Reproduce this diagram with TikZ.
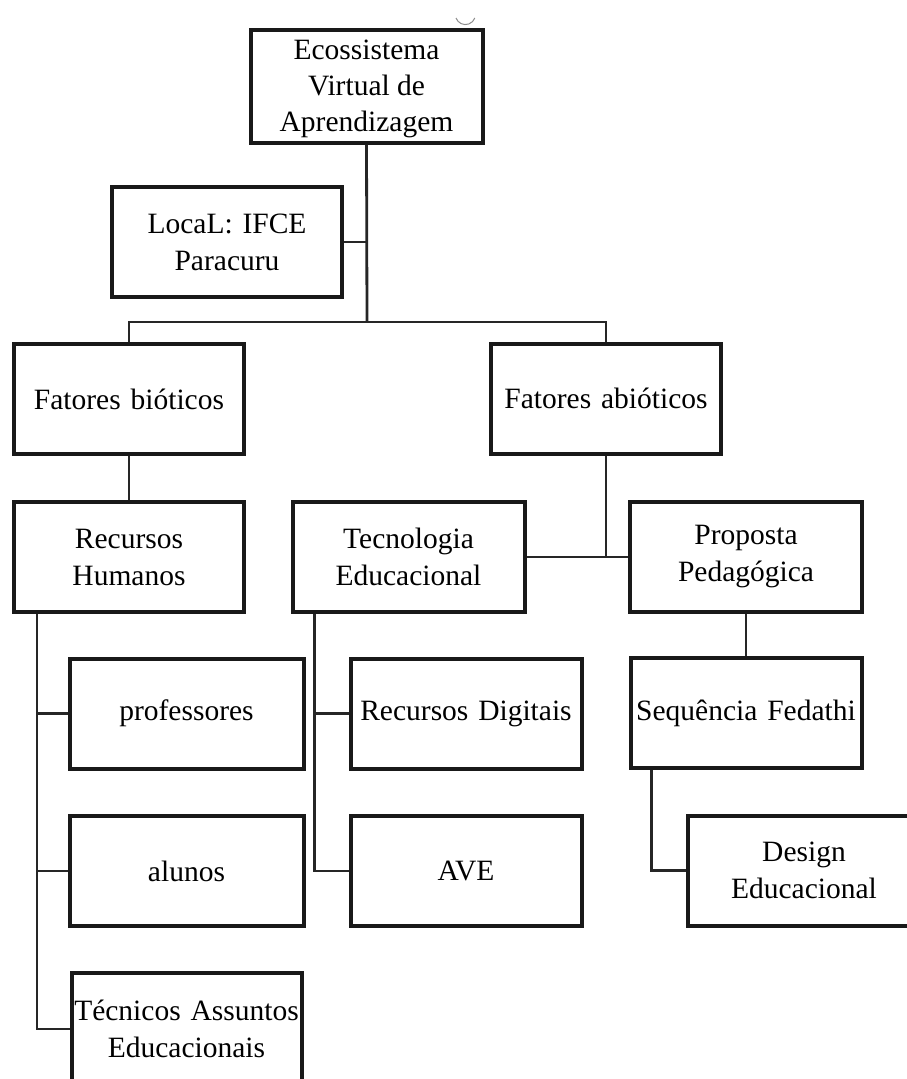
\documentclass[tikz,border=0pt]{standalone}
\usepackage{fontspec}
\setmainfont{Liberation Serif}
\begin{document}
\begin{tikzpicture}[x=1pt,y=-1pt,
  boxtext/.style={inner sep=0pt, align=center, font=\fontsize{29.5}{37}\selectfont},
  box/.style={boxtext, draw=black!90, line width=4pt,
    text width=230pt, minimum height=110pt, fill=white},
  link/.style={draw=black!85, line width=2.8pt}]
\clip (0,0) rectangle (907,1079);
\fill[white] (0,0) rectangle (907,1079);

% small arc mark above the root box
\draw[black!45, line width=1pt] (456,18) arc[start angle=160, end angle=20, radius=10];

% boxes
\node[box, text width=232pt, minimum height=113pt,
  label={[boxtext, font=\fontsize{29.5}{36}\selectfont, yshift=-3pt]center:{Ecossistema\\Virtual de\\Aprendizagem}}]
  (eco) at (366.5,86) {};
\node[box] (local) at (227,242) {LocaL: IFCE\\Paracuru};
\node[box] (biot) at (129,399) {Fatores bióticos};
\node[box] (abiot) at (606,398.5) {Fatores abióticos};
\node[box] (rh) at (129,557) {Recursos\\Humanos};
\node[box, text width=232pt] (tec) at (408.5,557) {Tecnologia\\Educacional};
\node[box, text width=232pt] (prop) at (746,557) {Proposta\\Pedagógica};
\node[box, text width=234pt] (prof) at (186.5,713.5) {professores};
\node[box, text width=234pt] (alun) at (186.5,871) {alunos};
\node[box, text width=230pt, minimum height=112pt] (tecn) at (186.5,1029) {Técnicos Assuntos\\Educacionais};
\node[box, text width=231pt] (rd) at (466,713.5) {Recursos Digitais};
\node[box, text width=231pt] (ave) at (466,871) {AVE};
\node[box, text width=231pt] (seq) at (746,713) {Sequência Fedathi};
\node[box, text width=232pt] (des) at (804,870.5) {Design\\Educacional};

% connectors
\coordinate (bar) at (367,322);
\draw[link] (eco.south) -- (bar);
\draw[link] (local.east) -- (local.east -| bar);
\draw[link] (biot.north) |- (bar) -| (abiot.north);
\draw[link] (biot.south) -- (rh.north);
\draw[link] (abiot.south) -- (abiot.south |- tec.east);
\draw[link] (tec.east) -- (prop.west);
\draw[link] (prop.south) -- (seq.north);

\draw[link] ([xshift=25pt]rh.south west) |- (tecn.west);
\draw[link] ([xshift=25pt]rh.south west) |- (prof.west);
\draw[link] ([xshift=25pt]rh.south west) |- (alun.west);

\draw[link] ([xshift=24pt]tec.south west) |- (ave.west);
\draw[link] ([xshift=24pt]tec.south west) |- (rd.west);

\draw[link] ([xshift=23pt]seq.south west) |- (des.west);
\end{tikzpicture}
\end{document}
